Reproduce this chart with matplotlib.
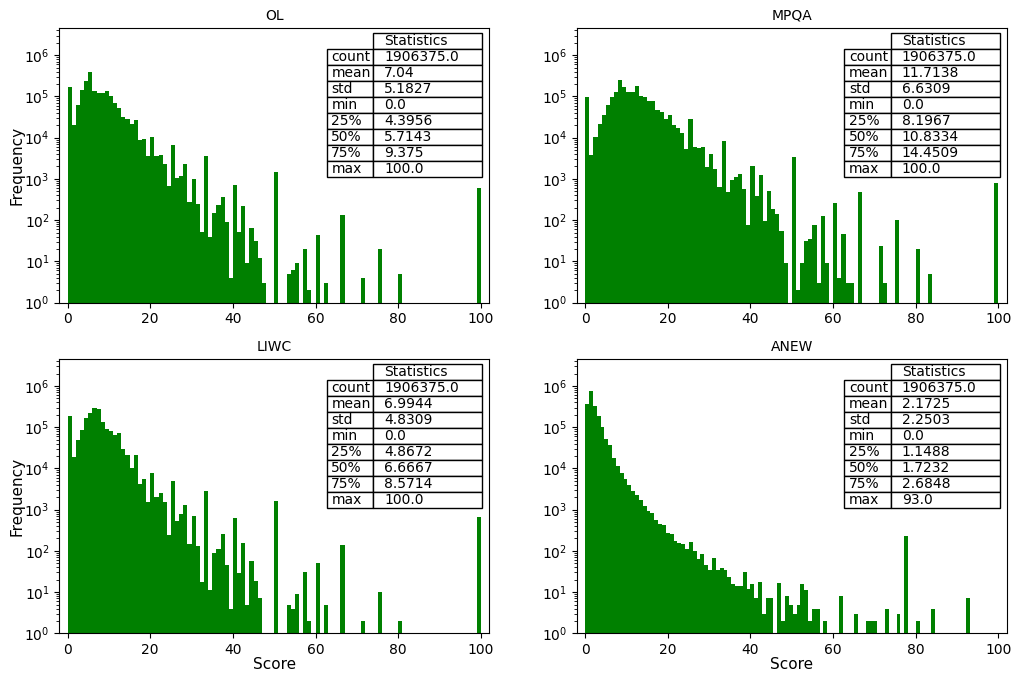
import numpy as np
import matplotlib.pyplot as plt

# score histograms of the four sentiment lexicons (100 bins each)
titles = ['OL', 'MPQA', 'LIWC', 'ANEW']
score_max = [100.0, 100.0, 100.0, 93.0]

ol_counts = [
    170000, 20400, 63100, 144500, 234400, 398100, 131800, 123000, 123000, 131800,
    104700, 70800, 52500, 32400, 28800, 21400, 27500, 8910, 9330, 3630,
    10470, 3630, 3800, 2290, 661, 6610, 1023, 1175, 2240, 282,
    977, 251, 52, 3630, 40, 145, 234, 355, 89, 4,
    724, 52, 219, 9, 63, 31, 12, 3, 0, 0,
    1479, 0, 0, 5, 6, 9, 0, 20, 2, 0,
    44, 0, 3, 0, 0, 0, 135, 0, 0, 0,
    0, 4, 0, 0, 0, 20, 0, 0, 0, 0,
    5, 0, 0, 0, 0, 0, 0, 0, 0, 0,
    0, 0, 0, 0, 0, 0, 0, 0, 0, 603,
]

mpqa_counts = [
    95500, 3890, 10470, 21380, 36300, 63100, 95500, 128800, 245500, 169800,
    128800, 128800, 182000, 104700, 95500, 75860, 75860, 47860, 42660, 28840,
    35480, 20420, 16980, 12880, 5250, 28840, 5890, 5500, 6030, 1995,
    3980, 1738, 646, 8130, 479, 955, 1096, 1288, 562, 76,
    2089, 380, 1230, 95, 501, 191, 138, 55, 9, 0,
    3388, 2, 9, 31, 34, 74, 3, 129, 9, 0,
    263, 4, 47, 3, 3, 0, 479, 0, 0, 0,
    0, 23, 3, 0, 0, 102, 0, 0, 0, 0,
    20, 0, 0, 5, 0, 0, 0, 0, 0, 0,
    0, 0, 0, 0, 0, 0, 0, 0, 0, 813,
]

liwc_counts = [
    190500, 18620, 47860, 85110, 169800, 223900, 288400, 275400, 134900, 89130,
    79430, 64570, 70800, 30200, 21380, 10470, 21380, 4270, 5500, 1549,
    7590, 1995, 2512, 1549, 245, 4900, 537, 794, 1288, 148,
    708, 129, 18, 2818, 11, 91, 110, 251, 45, 4,
    617, 29, 155, 5, 56, 19, 7, 0, 0, 0,
    1660, 0, 0, 5, 4, 9, 0, 30, 2, 0,
    52, 0, 5, 0, 0, 0, 138, 0, 0, 0,
    0, 2, 0, 0, 0, 10, 0, 0, 0, 0,
    2, 0, 0, 0, 0, 0, 0, 0, 0, 0,
    0, 0, 0, 0, 0, 0, 0, 0, 0, 646,
]

anew_counts = [
    371500, 741300, 323600, 190500, 100000, 52480, 38020, 17780, 11750, 7590,
    5500, 4070, 2818, 2240, 1738, 1230, 912, 851, 562, 457,
    417, 275, 263, 170, 155, 148, 110, 162, 102, 63,
    85, 45, 35, 66, 35, 39, 35, 23, 16, 14,
    14, 30, 12, 16, 7, 18, 3, 7, 7, 0,
    17, 2, 8, 5, 3, 5, 16, 11, 2, 4,
    4, 0, 2, 0, 0, 0, 8, 0, 0, 0,
    3, 0, 0, 2, 2, 2, 0, 0, 4, 0,
    0, 3, 0, 224, 0, 0, 2, 0, 0, 0,
    4, 0, 0, 0, 0, 0, 0, 0, 0, 7,
]

stat_names = ['count', 'mean', 'std', 'min', '25%', '50%', '75%', 'max']
ol_stats = ['1906375.0', '7.04', '5.1827', '0.0', '4.3956', '5.7143', '9.375', '100.0']
mpqa_stats = ['1906375.0', '11.7138', '6.6309', '0.0', '8.1967', '10.8334', '14.4509', '100.0']
liwc_stats = ['1906375.0', '6.9944', '4.8309', '0.0', '4.8672', '6.6667', '8.5714', '100.0']
anew_stats = ['1906375.0', '2.1725', '2.2503', '0.0', '1.1488', '1.7232', '2.6848', '93.0']

all_counts = [ol_counts, mpqa_counts, liwc_counts, anew_counts]
all_stats = [ol_stats, mpqa_stats, liwc_stats, anew_stats]

plt.rcParams['font.size'] = 10

fig, axes = plt.subplots(2, 2, figsize=(10.12, 6.78), dpi=100)
plt.subplots_adjust(left=0.0586, right=0.9948, top=0.9583, bottom=0.0659,
                    wspace=0.204, hspace=0.206)

for k, ax in enumerate(axes.flat):
    counts = all_counts[k]
    edges = np.linspace(0, score_max[k], len(counts) + 1)
    centers = (edges[:-1] + edges[1:]) / 2
    ax.hist(centers, bins=edges, weights=counts, color='green', log=True)
    ax.set_ylim(1, 4.5e6)
    ax.set_xlim(-2, 102)
    ax.set_title(titles[k], fontsize=10)

    cells = [[n, v] for n, v in zip(stat_names, all_stats[k])]
    tab = ax.table(cellText=cells, colLabels=['', 'Statistics'],
                   colWidths=[0.3, 0.7], cellLoc='left', colLoc='left',
                   bbox=[0.622, 0.458, 0.362, 0.524])
    tab.auto_set_font_size(False)
    tab.set_fontsize(10)
    # empty corner above the row names: no border
    tab[0, 0].set_edgecolor('none')
    tab[0, 0].set_facecolor('none')

for ax in axes[:, 0]:
    ax.set_ylabel('Frequency', fontsize=11, labelpad=0)
for ax in axes[1, :]:
    ax.set_xlabel('Score', fontsize=11, labelpad=0)

plt.savefig('out.png', dpi=100)
